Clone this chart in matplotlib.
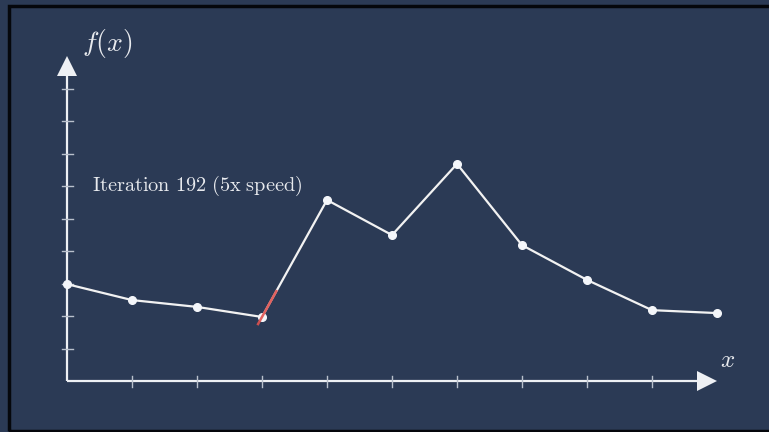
import matplotlib
matplotlib.use("Agg")
import matplotlib.pyplot as plt
from matplotlib.patches import Polygon, Rectangle

# data
x_vals = [0, 1, 2, 3, 4, 5, 6, 7, 8, 9, 10]
y_vals = [2.98, 2.49, 2.28, 1.97, 5.57, 4.49, 6.68, 4.18, 3.11, 2.18, 2.09]
x_ticks = [1, 2, 3, 4, 5, 6, 7, 8, 9]
y_ticks = [1, 2, 3, 4, 5, 6, 7, 8, 9]
tangent_index = 3
title_text = "Iteration 192 (5x speed)"

plt.rcParams['mathtext.fontset'] = 'cm'

BG = '#2b3a55'
W, H, DPI = 769, 432, 100
fig = plt.figure(figsize=(W / DPI, H / DPI), dpi=DPI, facecolor=BG)
ax = fig.add_axes([0, 0, 1, 1])
ax.set_facecolor(BG)
ax.axis('off')

# pixel mapping: origin at (67, 381), 65 px per x unit, 32.5 px per y unit
ux, uy = 65.0, 32.5
ox, oy = 67.0, 381.0
ax.set_xlim(-ox / ux, (W - ox) / ux)
ax.set_ylim((oy - H) / uy, oy / uy)

# frame
fig.patches.append(Rectangle((8.5 / W, 1.5 / H), 1.2, (425 / H), transform=fig.transFigure,
                             fill=False, edgecolor='#05070c', linewidth=2.5, zorder=0))

axis_col = '#eef0f4'
tick_col = '#b9c0cc'
# axes lines
x_end = 10.0
y_end = 10.0
ahx = 20 / ux
ahy = 20 / uy
ax.plot([0, x_end - ahx * 0.95], [0, 0], color=axis_col, lw=1.6, zorder=2, solid_capstyle='butt')
ax.plot([0, 0], [0, y_end - ahy * 0.95], color=axis_col, lw=1.6, zorder=2, solid_capstyle='butt')
ax.add_patch(Polygon([[x_end - ahx, -10 / uy], [x_end - ahx, 10 / uy], [x_end, 0]],
                     closed=True, color=axis_col, zorder=3, lw=0))
ax.add_patch(Polygon([[-10 / ux, y_end - ahy], [10 / ux, y_end - ahy], [0, y_end]],
                     closed=True, color=axis_col, zorder=3, lw=0))

# ticks
for t in x_ticks:
    ax.plot([t, t], [-5.5 / uy, 5.5 / uy], color=tick_col, lw=1.0, zorder=2)
for t in y_ticks:
    ax.plot([-5.5 / ux, 5.5 / ux], [t, t], color=tick_col, lw=1.0, zorder=2)

# data line
ax.plot(x_vals, y_vals, color='#f2f2f2', lw=1.6, marker='o', markersize=5.5,
        markerfacecolor='#f4f6fa', markeredgecolor='#f4f6fa', zorder=4)

# tangent line at current point
i = tangent_index
slope = (y_vals[i + 1] - y_vals[i]) / (x_vals[i + 1] - x_vals[i])
x0, x1 = x_vals[i] - 0.07, x_vals[i] + 0.23
ax.plot([x0, x1], [y_vals[i] + slope * (x0 - x_vals[i]), y_vals[i] + slope * (x1 - x_vals[i])],
        color='#e0524f', lw=1.8, alpha=0.9, zorder=5, solid_capstyle='butt')

# labels
ax.text((92 - ox) / ux, (oy - 186) / uy, r'$\mathrm{' + title_text.replace(' ', r'\ ') + '}$',
        color='#e8eaee', fontsize=14.6, ha='left', va='center', zorder=6)
ax.text((82 - ox) / ux, (oy - 43) / uy, r'$f(x)$', color='#e8eaee', fontsize=20,
        ha='left', va='center')
ax.text((728 - ox) / ux, (oy - 360) / uy, r'$x$', color='#e8eaee', fontsize=18,
        ha='center', va='center')

fig.savefig('out.png', dpi=DPI, facecolor=BG)
